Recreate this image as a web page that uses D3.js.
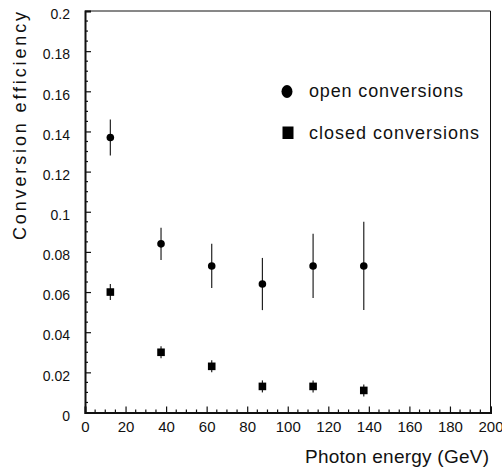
<!DOCTYPE html>
<html><head><meta charset="utf-8">
<script src="https://cdn.jsdelivr.net/npm/d3@7"></script>
<style>body{margin:0;background:#fff}svg{display:block}text{font-family:"Liberation Sans",Arial,sans-serif;fill:#111}</style>
</head><body>
<svg id="c" width="502" height="469"></svg>
<script>
const energies = [12.5, 37.5, 62.5, 87.5, 112.5, 137.5];
const openEff = [0.137, 0.084, 0.073, 0.064, 0.073, 0.073];
const openErr = [0.009, 0.008, 0.011, 0.013, 0.016, 0.022];
const closedEff = [0.060, 0.030, 0.023, 0.013, 0.013, 0.011];
const closedErr = [0.004, 0.003, 0.003, 0.003, 0.003, 0.003];
const xTicks = [0, 20, 40, 60, 80, 100, 120, 140, 160, 180, 200];
const yTicks = [0, 0.02, 0.04, 0.06, 0.08, 0.1, 0.12, 0.14, 0.16, 0.18, 0.2];
const legendLabels = ["open conversions", "closed conversions"];

const svg = d3.select("#c");
const L = 85, R = 490.5, T = 11, B = 412.5;
const x = d3.scaleLinear().domain([0, 200]).range([L, R]);
const y = d3.scaleLinear().domain([0, 0.2]).range([B, T]);

// frame top/right
svg.append("line").attr("x1", L).attr("x2", R).attr("y1", T).attr("y2", T).attr("stroke", "#111").attr("stroke-width", 1);
svg.append("line").attr("x1", R).attr("x2", R).attr("y1", T).attr("y2", B).attr("stroke", "#111").attr("stroke-width", 1);

// x axis
const xAxis = d3.axisBottom(x).tickValues(xTicks).tickSize(-6).tickPadding(9).tickFormat(d3.format("d"));
const gx = svg.append("g").attr("transform", `translate(0,${B})`).call(xAxis);
gx.select(".domain").attr("stroke-width", 2).attr("stroke", "#111");
gx.selectAll(".tick line").attr("stroke", "#111").attr("stroke-width", 1.2);
gx.selectAll(".tick text").attr("font-size", 15).attr("font-family", "Liberation Sans, Arial, sans-serif").attr("fill", "#111");
// x minor ticks
const xMinor = d3.range(0, 201, 5).filter(v => v % 20 !== 0);
svg.append("g").selectAll("line").data(xMinor).join("line")
  .attr("x1", d => x(d)).attr("x2", d => x(d)).attr("y1", B).attr("y2", B - 3)
  .attr("stroke", "#111").attr("stroke-width", 1.2);

// y axis
const yAxis = d3.axisLeft(y).tickValues(yTicks).tickSize(-6).tickPadding(15).tickFormat(d => d === 0 ? "0" : String(+d.toFixed(2)));
const gy = svg.append("g").attr("transform", `translate(${L},0)`).call(yAxis);
gy.select(".domain").attr("stroke-width", 2).attr("stroke", "#111");
gy.selectAll(".tick line").attr("stroke", "#111").attr("stroke-width", 1.2);
gy.selectAll(".tick text").attr("font-size", 14).attr("font-family", "Liberation Sans, Arial, sans-serif").attr("fill", "#111").attr("dy", "0.55em");
const yMinor = d3.range(0, 41).map(i => i * 0.005).filter((v, i) => i % 4 !== 0);
svg.append("g").selectAll("line").data(yMinor).join("line")
  .attr("x1", L).attr("x2", L + 3).attr("y1", d => y(d)).attr("y2", d => y(d))
  .attr("stroke", "#111").attr("stroke-width", 1.2);

// axis titles
svg.append("text").attr("transform", `translate(26,126) rotate(-90)`).attr("text-anchor", "middle")
  .attr("font-size", 18).attr("textLength", 228).attr("lengthAdjust", "spacing").text("Conversion efficiency");
svg.append("text").attr("x", 489).attr("y", 463).attr("text-anchor", "end")
  .attr("font-size", 19).attr("textLength", 184).attr("lengthAdjust", "spacing").text("Photon energy (GeV)");

// error bars
const openData = energies.map((e, i) => ({ e, v: openEff[i], err: openErr[i] }));
const closedData = energies.map((e, i) => ({ e, v: closedEff[i], err: closedErr[i] }));
svg.append("g").selectAll("line").data(openData).join("line")
  .attr("x1", d => x(d.e)).attr("x2", d => x(d.e))
  .attr("y1", d => y(d.v + d.err)).attr("y2", d => y(d.v - d.err))
  .attr("stroke", "#222").attr("stroke-width", 1.2);
svg.append("g").selectAll("line").data(closedData).join("line")
  .attr("x1", d => x(d.e)).attr("x2", d => x(d.e))
  .attr("y1", d => y(d.v + d.err)).attr("y2", d => y(d.v - d.err))
  .attr("stroke", "#222").attr("stroke-width", 1.2);

// markers
svg.append("g").selectAll("circle").data(openData).join("circle")
  .attr("cx", d => x(d.e)).attr("cy", d => y(d.v)).attr("r", 3.8).attr("fill", "#000");
svg.append("g").selectAll("rect").data(closedData).join("rect")
  .attr("x", d => x(d.e) - 3.8).attr("y", d => y(d.v) - 3.8).attr("width", 7.6).attr("height", 7.6).attr("fill", "#000");

// legend
svg.append("ellipse").attr("cx", 287).attr("cy", 91.5).attr("rx", 5.5).attr("ry", 6.5).attr("fill", "#000");
svg.append("rect").attr("x", 282.5).attr("y", 126.5).attr("width", 11).attr("height", 12.5).attr("fill", "#000");
svg.append("text").attr("x", 309).attr("y", 97).attr("font-size", 18).attr("textLength", 154).attr("lengthAdjust", "spacing").text(legendLabels[0]);
svg.append("text").attr("x", 309).attr("y", 138.5).attr("font-size", 18).attr("textLength", 170).attr("lengthAdjust", "spacing").text(legendLabels[1]);
</script>
</body></html>
